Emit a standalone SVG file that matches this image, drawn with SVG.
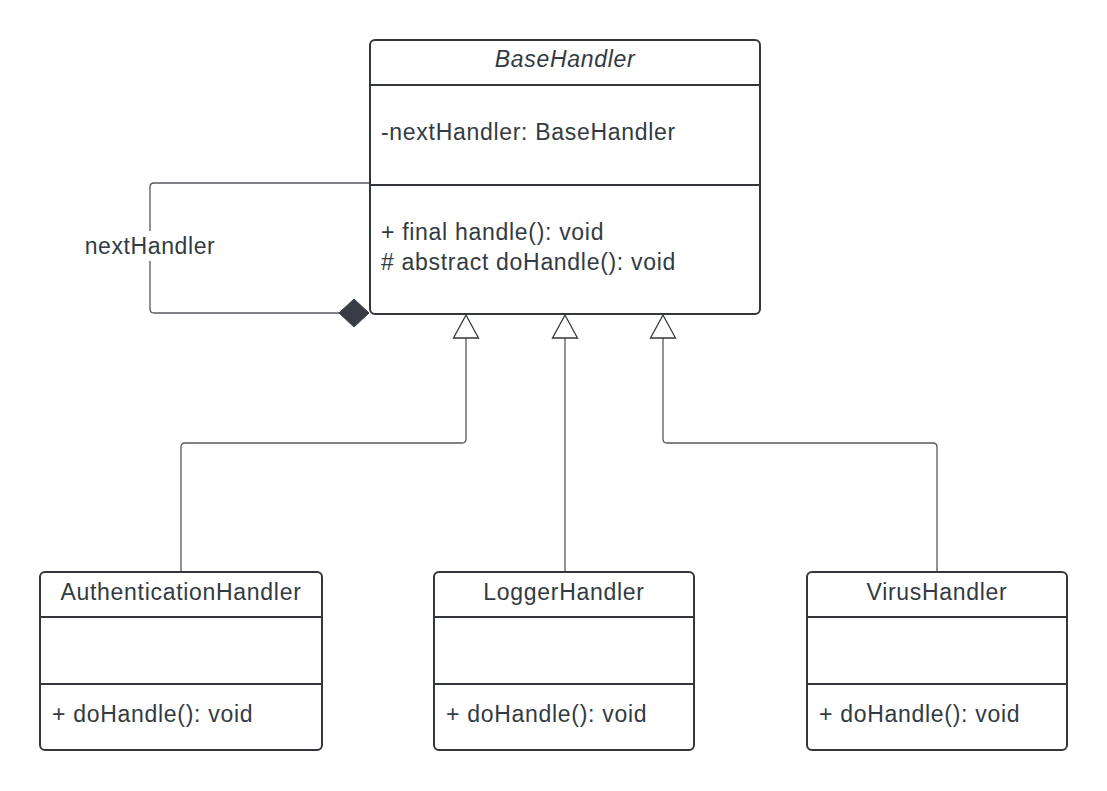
<svg xmlns="http://www.w3.org/2000/svg" width="1107" height="791" viewBox="0 0 1107 791">
<style>
.box{fill:#fff;stroke:#33363b;stroke-width:2}
.div{stroke:#33363b;stroke-width:2}
.t{font-family:"Liberation Sans",Arial,sans-serif;font-size:23px;letter-spacing:0.7px;fill:#333a42}
.c{text-anchor:middle}
.conn{fill:none;stroke:#555a60;stroke-width:1.3}
.tri{fill:#fff;stroke:#33363b;stroke-width:1.3}
</style>
<rect width="1107" height="791" fill="#fff"/>
<g id="connectors">
<path class="conn" d="M370,183 H154 Q150,183 150,187 V309 Q150,313 154,313 H340"/>
<rect x="82" y="231" width="136" height="30" fill="#fff"/>
<text class="t c" x="150" y="254" style="letter-spacing:0.6px">nextHandler</text>
<polygon points="369,313 354,299 339,313 354,327" fill="#383d45" stroke="#383d45" stroke-width="1"/>
<path class="conn" d="M181,572 V447 Q181,443 185,443 H462 Q466,443 466,439 V338"/>
<path class="conn" d="M565,572 V338"/>
<path class="conn" d="M937,572 V447 Q937,443 933,443 H667 Q663,443 663,439 V338"/>
<polygon class="tri" points="466,315 453.5,338 478.5,338"/>
<polygon class="tri" points="565,315 552.5,338 577.5,338"/>
<polygon class="tri" points="663,315 650.5,338 675.5,338"/>
</g>
<g id="BaseHandler">
<rect class="box" x="370" y="40" width="390" height="274" rx="5"/>
<line class="div" x1="370" y1="85" x2="760" y2="85"/>
<line class="div" x1="370" y1="185" x2="760" y2="185"/>
<text class="t c" x="565" y="67" font-style="italic">BaseHandler</text>
<text class="t" x="381" y="140">-nextHandler: BaseHandler</text>
<text class="t" x="381" y="240">+ final handle(): void</text>
<text class="t" x="381" y="270"># abstract doHandle(): void</text>
</g>
<g id="AuthenticationHandler">
<rect class="box" x="40" y="572" width="282" height="178" rx="5"/>
<line class="div" x1="40" y1="617" x2="322" y2="617"/>
<line class="div" x1="40" y1="684" x2="322" y2="684"/>
<text class="t c" x="181" y="600">AuthenticationHandler</text>
<text class="t" x="52" y="722">+ doHandle(): void</text>
</g>
<g id="LoggerHandler">
<rect class="box" x="434" y="572" width="260" height="178" rx="5"/>
<line class="div" x1="434" y1="617" x2="694" y2="617"/>
<line class="div" x1="434" y1="684" x2="694" y2="684"/>
<text class="t c" x="564" y="600">LoggerHandler</text>
<text class="t" x="446" y="722">+ doHandle(): void</text>
</g>
<g id="VirusHandler">
<rect class="box" x="807" y="572" width="260" height="178" rx="5"/>
<line class="div" x1="807" y1="617" x2="1067" y2="617"/>
<line class="div" x1="807" y1="684" x2="1067" y2="684"/>
<text class="t c" x="937" y="600">VirusHandler</text>
<text class="t" x="819" y="722">+ doHandle(): void</text>
</g>
</svg>
